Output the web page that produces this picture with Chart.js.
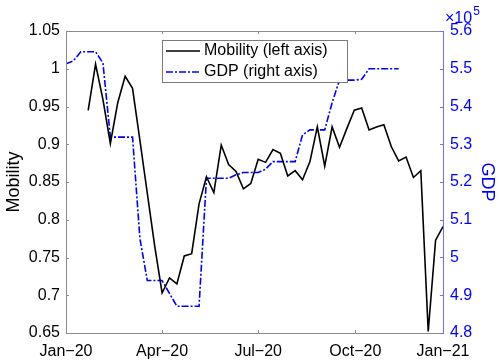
<!DOCTYPE html>
<html lang="en">
<head>
<meta charset="UTF-8">
<title>Mobility and GDP</title>
<script src="https://cdn.jsdelivr.net/npm/chart.js"></script>
<style>
  html, body { margin: 0; padding: 0; background: #fff; }
  #wrap { width: 500px; height: 362px; }
</style>
</head>
<body>
<div id="wrap"><canvas id="chart" width="500" height="362"></canvas></div>
<script>
// weekly series, x in days since 1 Jan 2020
const mobilityStartDay = 21;
const gdpStartDay = 0;
const weekStep = 7;

const mobility = [0.945, 1.006, 0.959, 0.901, 0.955, 0.990, 0.974, 0.905, 0.835, 0.765,
                  0.703, 0.723, 0.715, 0.752, 0.755, 0.821, 0.857, 0.836, 0.899, 0.873,
                  0.864, 0.841, 0.848, 0.880, 0.876, 0.893, 0.888, 0.858, 0.865, 0.853,
                  0.877, 0.923, 0.871, 0.923, 0.896, 0.921, 0.945, 0.948, 0.919, 0.923,
                  0.926, 0.897, 0.878, 0.883, 0.856, 0.865, 0.652, 0.773, 0.791];

// GDP in units of 10^5
const gdp = [5.513, 5.521, 5.545, 5.545, 5.545, 5.515, 5.319, 5.319, 5.319, 5.319,
             5.050, 4.939, 4.939, 4.939, 4.905, 4.871, 4.871, 4.871, 4.871, 5.210,
             5.210, 5.210, 5.210, 5.219, 5.225, 5.225, 5.225, 5.234, 5.254, 5.254,
             5.254, 5.254, 5.325, 5.338, 5.338, 5.338, 5.410, 5.470, 5.470, 5.470,
             5.472, 5.500, 5.500, 5.500, 5.500, 5.500];

const xTickDays = [0, 91, 182, 274, 357];
const xTickLabels = ['Jan\u221220', 'Apr\u221220', 'Jul\u221220', 'Oct\u221220', 'Jan\u221221'];

const legendLabels = ['Mobility (left axis)', 'GDP (right axis)'];

const AXIS_GREY = '#8a8a8a';
const BLUE = 'rgb(0,0,255)';
const FONT = '"Liberation Sans", Arial, sans-serif';

const mobilityPts = mobility.map((v, i) => ({ x: mobilityStartDay + weekStep * i, y: v }));
const gdpPts = gdp.map((v, i) => ({ x: gdpStartDay + weekStep * i, y: v }));

function trimNum(v) {
  return String(Number(v.toFixed(2)));
}

// box, inward ticks, legend and the x10^5 note
const framePlugin = {
  id: 'frame',
  afterDatasetsDraw(chart) {
    const { ctx, chartArea: a, scales } = chart;
    const tl = 3;
    ctx.save();
    ctx.lineWidth = 1;

    ctx.strokeStyle = AXIS_GREY;
    ctx.beginPath();
    ctx.moveTo(a.left + 0.5, a.top + 0.5);
    ctx.lineTo(a.right, a.top + 0.5);
    ctx.moveTo(a.left + 0.5, a.top + 0.5);
    ctx.lineTo(a.left + 0.5, a.bottom + 0.5);
    ctx.lineTo(a.right, a.bottom + 0.5);
    scales.x.ticks.forEach(t => {
      const px = Math.round(scales.x.getPixelForValue(t.value)) + 0.5;
      ctx.moveTo(px, a.bottom);
      ctx.lineTo(px, a.bottom - tl);
      ctx.moveTo(px, a.top);
      ctx.lineTo(px, a.top + tl);
    });
    scales.y.ticks.forEach(t => {
      const py = Math.round(scales.y.getPixelForValue(t.value)) + 0.5;
      ctx.moveTo(a.left, py);
      ctx.lineTo(a.left + tl, py);
    });
    ctx.stroke();

    ctx.strokeStyle = 'rgb(110,110,255)';
    ctx.beginPath();
    ctx.moveTo(a.right + 0.5, a.top);
    ctx.lineTo(a.right + 0.5, a.bottom + 1);
    scales.y1.ticks.forEach(t => {
      const py = Math.round(scales.y1.getPixelForValue(t.value)) + 0.5;
      ctx.moveTo(a.right, py);
      ctx.lineTo(a.right - tl, py);
    });
    ctx.stroke();

    // legend
    const lx = a.left + 96, ly = a.top + 9, lw = 185, lh = 42;
    ctx.fillStyle = '#fff';
    ctx.fillRect(lx, ly, lw, lh);
    ctx.strokeStyle = '#7a7a7a';
    ctx.strokeRect(lx + 0.5, ly + 0.5, lw, lh);
    ctx.font = '16px ' + FONT;
    ctx.textBaseline = 'middle';
    chart.data.datasets.forEach((ds, i) => {
      const yy = ly + 11 + i * 21;
      ctx.strokeStyle = ds.borderColor;
      ctx.lineWidth = ds.borderWidth;
      ctx.setLineDash(ds.borderDash || []);
      ctx.beginPath();
      ctx.moveTo(lx + 4, yy);
      ctx.lineTo(lx + 38, yy);
      ctx.stroke();
      ctx.setLineDash([]);
      ctx.fillStyle = '#000';
      ctx.fillText(legendLabels[i], lx + 42, yy);
    });

    // exponent note above right axis
    ctx.fillStyle = BLUE;
    ctx.textBaseline = 'alphabetic';
    ctx.font = '16px ' + FONT;
    ctx.fillText('\u00d710', a.right + 2, 23);
    const w = ctx.measureText('\u00d710').width;
    ctx.font = '12px ' + FONT;
    ctx.fillText('5', a.right + 2 + w + 1, 15);
    ctx.restore();
  }
};

new Chart(document.getElementById('chart'), {
  type: 'line',
  data: {
    datasets: [
      {
        label: legendLabels[0],
        data: mobilityPts,
        yAxisID: 'y',
        borderColor: '#000',
        borderWidth: 1.6,
        pointRadius: 0,
        tension: 0,
        fill: false
      },
      {
        label: legendLabels[1],
        data: gdpPts,
        yAxisID: 'y1',
        borderColor: BLUE,
        borderWidth: 1.6,
        borderDash: [7, 2, 2, 2],
        pointRadius: 0,
        tension: 0,
        fill: false
      }
    ]
  },
  options: {
    responsive: false,
    animation: false,
    events: [],
    layout: { padding: { top: 31, left: 0, right: 0, bottom: 0 } },
    plugins: {
      legend: { display: false },
      tooltip: { enabled: false }
    },
    scales: {
      x: {
        type: 'linear',
        min: 0,
        max: 357,
        afterBuildTicks: s => { s.ticks = xTickDays.map(v => ({ value: v })); },
        afterFit: s => { s.height = 29; },
        grid: { display: false, drawTicks: false },
        border: { display: false },
        ticks: {
          padding: 9,
          color: '#000',
          font: { family: FONT, size: 16 },
          maxRotation: 0,
          autoSkip: false,
          callback: v => xTickLabels[xTickDays.indexOf(v)]
        }
      },
      y: {
        position: 'left',
        min: 0.65,
        max: 1.05,
        afterFit: s => { s.width = 66; },
        grid: { display: false, drawTicks: false },
        border: { display: false },
        ticks: {
          stepSize: 0.05,
          padding: 6,
          color: '#000',
          font: { family: FONT, size: 16 },
          callback: v => trimNum(v)
        },
        title: {
          display: true,
          text: 'Mobility',
          color: '#000',
          font: { family: FONT, size: 18 },
          padding: { top: 3, bottom: 0 }
        }
      },
      y1: {
        position: 'right',
        min: 4.8,
        max: 5.6,
        afterFit: s => { s.width = 57; },
        grid: { display: false, drawTicks: false },
        border: { display: false },
        ticks: {
          stepSize: 0.1,
          padding: 7,
          color: BLUE,
          font: { family: FONT, size: 16 },
          callback: v => trimNum(v)
        },
        title: {
          display: true,
          text: 'GDP',
          color: BLUE,
          font: { family: FONT, size: 18 },
          padding: { top: 2, bottom: 0 }
        }
      }
    }
  },
  plugins: [framePlugin]
});
</script>
</body>
</html>
